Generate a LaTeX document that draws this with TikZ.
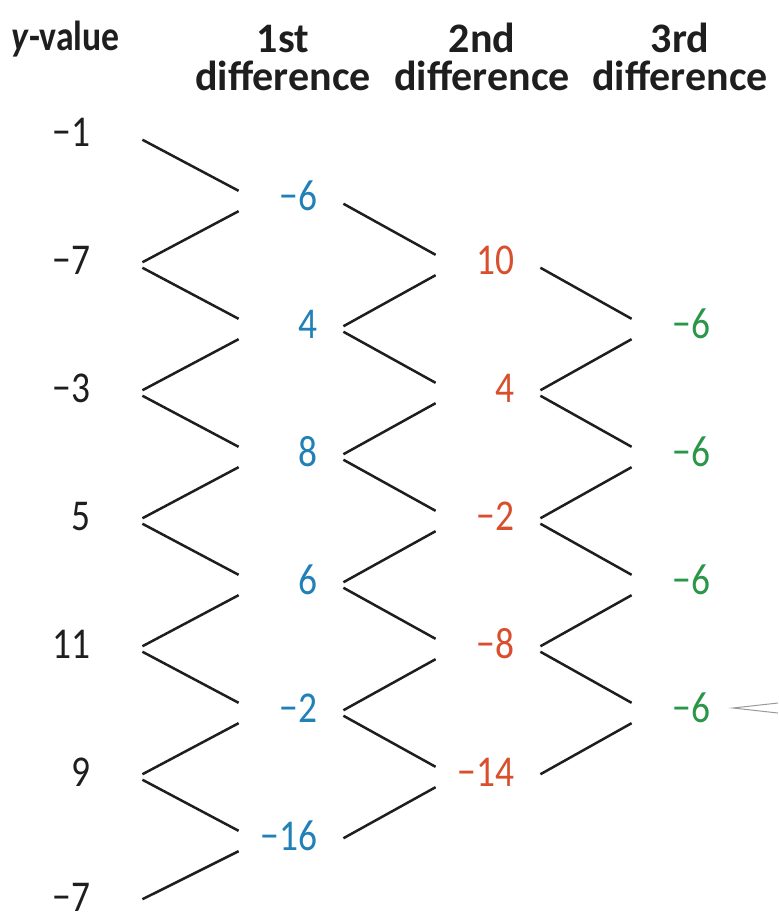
\documentclass[tikz,border=0pt]{standalone}
\usepackage{fontspec}
\setmainfont{Carlito}
\newfontfamily\numfont{Carlito}[FakeStretch=0.85]
\definecolor{diffblue}{RGB}{33,128,181}
\definecolor{diffred}{RGB}{217,79,45}
\definecolor{diffgreen}{RGB}{41,150,72}
\definecolor{inkgray}{RGB}{30,30,30}
\tikzstyle{val}=[text width=32pt, align=right, inner xsep=10pt, inner ysep=0pt, text height=14.5pt, text depth=5pt, execute at end node=\kern3pt, font=\numfont\fontsize{22pt}{26pt}\selectfont]
\tikzstyle{yval}=[val, inner xsep=23pt, text=inkgray]
\tikzstyle{head}=[align=center, inner sep=0pt, anchor=base, text=inkgray, font=\bfseries\fontsize{21pt}{19pt}\selectfont]
\tikzstyle{zig}=[line width=1.25pt, color=inkgray]
\tikzstyle{callout}=[line width=0.5pt, color=black!40]

\begin{document}
\begin{tikzpicture}[x=0.5pt, y=-0.5pt]
    \useasboundingbox (0,0) rectangle (778,914);
    \node[head, anchor=base west, font=\numfont\bfseries\fontsize{21pt}{19pt}\selectfont] (hy) at (11,51) {\textit{y}-value};
    \node[head] (h1) at (283,91) {1st\\difference};
    \node[head] (h2) at (482,91) {2nd\\difference};
    \node[head] (h3) at (680,91) {3rd\\difference};
    \node[yval] (y0) at (64,137) {−1};
    \node[yval] (y1) at (64,265) {−7};
    \node[yval] (y2) at (64,393) {−3};
    \node[yval] (y3) at (64,521) {5};
    \node[yval] (y4) at (64,649) {11};
    \node[yval] (y5) at (64,777) {9};
    \node[yval] (y6) at (64,902) {−7};
    \node[val, text=diffblue] (f0) at (291,201) {−6};
    \node[val, text=diffblue] (f1) at (291,329) {4};
    \node[val, text=diffblue] (f2) at (291,457) {8};
    \node[val, text=diffblue] (f3) at (291,585) {6};
    \node[val, text=diffblue] (f4) at (291,713) {−2};
    \node[val, text=diffblue] (f5) at (291,841) {−16};
    \node[val, text=diffred] (s0) at (488,265) {10};
    \node[val, text=diffred] (s1) at (488,393) {4};
    \node[val, text=diffred] (s2) at (488,521) {−2};
    \node[val, text=diffred] (s3) at (488,649) {−8};
    \node[val, text=diffred] (s4) at (488,777) {−14};
    \node[val, text=diffgreen] (t0) at (684,329) {−6};
    \node[val, text=diffgreen] (t1) at (684,457) {−6};
    \node[val, text=diffgreen] (t2) at (684,585) {−6};
    \node[val, text=diffgreen] (t3) at (684,713) {−6};
    \draw[zig] (y0.-2) -- (f0.169);
    \draw[zig] (y1.2) -- (f0.191);
    \draw[zig] (y1.-2) -- (f1.169);
    \draw[zig] (y2.2) -- (f1.191);
    \draw[zig] (y2.-2) -- (f2.169);
    \draw[zig] (y3.2) -- (f2.191);
    \draw[zig] (y3.-2) -- (f3.169);
    \draw[zig] (y4.2) -- (f3.191);
    \draw[zig] (y4.-2) -- (f4.169);
    \draw[zig] (y5.2) -- (f4.191);
    \draw[zig] (y5.-2) -- (f5.169);
    \draw[zig] (y6.2) -- (f5.191);
    \draw[zig] (f0.-3) -- (s0.169);
    \draw[zig] (f1.3) -- (s0.191);
    \draw[zig] (f1.-3) -- (s1.169);
    \draw[zig] (f2.3) -- (s1.191);
    \draw[zig] (f2.-3) -- (s2.169);
    \draw[zig] (f3.3) -- (s2.191);
    \draw[zig] (f3.-3) -- (s3.169);
    \draw[zig] (f4.3) -- (s3.191);
    \draw[zig] (f4.-3) -- (s4.169);
    \draw[zig] (f5.3) -- (s4.191);
    \draw[zig] (s0.-3) -- (t0.169);
    \draw[zig] (s1.3) -- (t0.191);
    \draw[zig] (s1.-3) -- (t1.169);
    \draw[zig] (s2.3) -- (t1.191);
    \draw[zig] (s2.-3) -- (t2.169);
    \draw[zig] (s3.3) -- (t2.191);
    \draw[zig] (s3.-3) -- (t3.169);
    \draw[zig] (s4.3) -- (t3.191);
    \coordinate (tip) at (733,708);
    \coordinate (cu) at (778,703);
    \coordinate (cd) at (778,713);
    \draw[callout] (cu) -- (tip) -- (cd);
\end{tikzpicture}
\end{document}
